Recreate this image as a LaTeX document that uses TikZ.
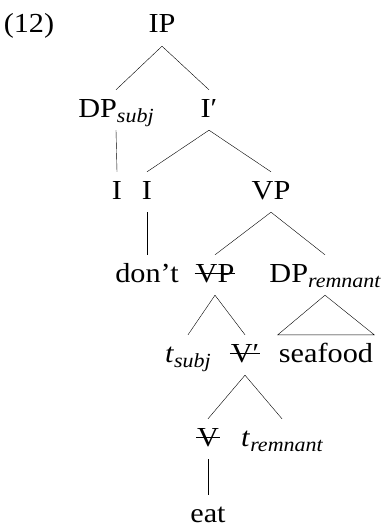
\documentclass[tikz,border=0pt]{standalone}
\usepackage{fontspec}
\setmainfont{Liberation Serif}[FakeStretch=1.1]
\usepackage{tikz}

\newcommand{\sbs}[1]{\raisebox{-5pt}{\fontsize{20}{21}\selectfont\itshape #1}}

\tikzset{
  lbl/.style={anchor=base, inner xsep=1pt, inner ysep=4pt, text height=23pt, text depth=9pt},
  struck/.style={lbl, path picture={\draw ([yshift=2pt]path picture bounding box.west) -- ([yshift=2pt]path picture bounding box.east);}},
  branch/.style={thin}
}

\begin{document}
\begin{tikzpicture}[x=1pt, y=-1pt, font=\fontsize{27.5}{32}\selectfont]
  \useasboundingbox (0,0) rectangle (385,527);
  \node[lbl] (ex) at (29,33) {(12)};
  % the tree, one row per line
  \node[lbl] (ip) at (162,33) {IP};
  \node[lbl] (dpsubj) at (116,117) {DP\sbs{subj}};
  \node[lbl] (ibar) at (209,117) {I′};
  \node[lbl] (itrace) at (117,199) {I};
  \node[lbl] (ihead) at (147,199) {I};
  \node[lbl] (vp) at (271,199) {VP};
  \node[lbl] (dont) at (147,282) {don’t};
  \node[struck] (vpdel) at (215,282) {VP};
  \node[lbl] (dprem) at (325,282) {DP\sbs{remnant}};
  \node[lbl] (tsubj) at (188,362) {\textit{t}\sbs{subj}};
  \node[struck] (vbardel) at (245,362) {V′};
  \node[lbl] (sea) at (326,362) {seafood};
  \node[struck] (vdel) at (208,446) {V};
  \node[lbl] (trem) at (282,446) {\textit{t}\sbs{remnant}};
  \node[lbl, text depth=2pt] (eat) at (208,522) {eat};
  \draw[branch] (ip.south) -- (dpsubj.north);
  \draw[branch] (ip.south) -- (ibar.north);
  \draw[branch] (dpsubj.south) -- (itrace.north);
  \draw[branch] (ibar.south) -- (ihead.north);
  \draw[branch] (ibar.south) -- (vp.north);
  \draw[branch] (ihead.south) -- (dont.north);
  \draw[branch] (vp.south) -- (vpdel.north);
  \draw[branch] (vp.south) -- (dprem.north);
  \draw[branch] (vpdel.south) -- (tsubj.north);
  \draw[branch] (vpdel.south) -- (vbardel.north);
  \draw[branch] (dprem.south) -- (sea.north west) -- (sea.north east) -- cycle;
  \draw[branch] (vbardel.south) -- (vdel.north);
  \draw[branch] (vbardel.south) -- (trem.north);
  \draw[branch] (vdel.south) -- (eat.north);
\end{tikzpicture}
\end{document}
